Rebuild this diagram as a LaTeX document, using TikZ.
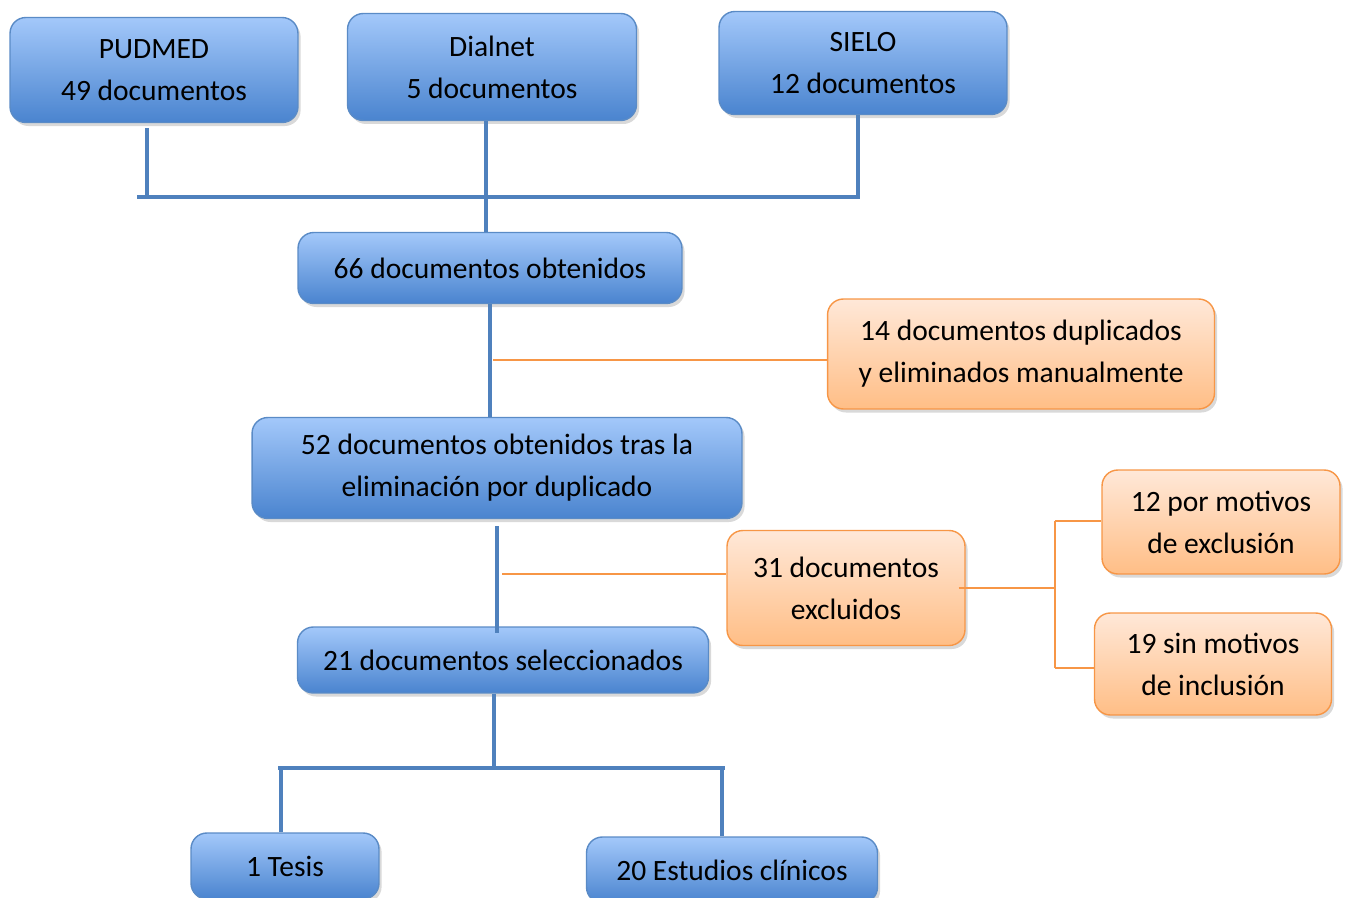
\documentclass[tikz,border=0pt]{standalone}
\usepackage{fontspec}
\setmainfont{Carlito}
\usepackage{tikz}
\usetikzlibrary{positioning, shadows, calc}

\definecolor{blueTop}{HTML}{A3C8FA}
\definecolor{blueBot}{HTML}{4A84CF}
\definecolor{blueEdge}{HTML}{5A8BC6}
\definecolor{blueLine}{HTML}{4F81BD}
\definecolor{orangeTop}{HTML}{FFE8D8}
\definecolor{orangeBot}{HTML}{FFBE86}
\definecolor{orangeEdge}{HTML}{F79646}

\begin{document}
\begin{tikzpicture}[
  x=0.02cm, y=-0.02cm,
  box/.style={
    rectangle, rounded corners=9pt, line width=0.8pt,
    align=center, font=\fontsize{16.8}{24}\selectfont,
    inner sep=2pt,
    drop shadow={opacity=0.3, shadow xshift=1.5pt, shadow yshift=-2pt},
  },
  bluebox/.style={box, draw=blueEdge, top color=blueTop, bottom color=blueBot},
  orangebox/.style={box, draw=orangeEdge, top color=orangeTop, bottom color=orangeBot},
  bline/.style={blueLine, line width=2.8pt},
  oline/.style={orangeEdge, line width=1pt},
]
\useasboundingbox (0,0) rectangle (1348,898);

% sources
\node[bluebox, minimum width=5.76cm, minimum height=2.1cm]  (pud)  at (154,70)  {PUDMED\\49 documentos};
\node[bluebox, minimum width=5.78cm, minimum height=2.14cm] (dial) at (492,67)  {Dialnet\\5 documentos};
\node[bluebox, minimum width=5.76cm, minimum height=2.06cm] (sie)  at (863,63)  {SIELO\\12 documentos};

% main flow
\node[bluebox, minimum width=7.68cm, minimum height=1.42cm] (obt)  at (490,268) {66 documentos obtenidos};
\node[bluebox, minimum width=9.8cm,  minimum height=2.02cm] (dup)  at (497,468) {52 documentos obtenidos tras la\\eliminación por duplicado};
\node[bluebox, minimum width=8.22cm, minimum height=1.32cm] (sel)  at (503,660) {21 documentos seleccionados};
\node[bluebox, minimum width=3.76cm, minimum height=1.32cm] (tes)  at (285,866) {1 Tesis};
\node[bluebox, minimum width=5.82cm, minimum height=1.32cm] (est)  at (732,870) {20 Estudios clínicos};

% side branches
\node[orangebox, minimum width=7.74cm, minimum height=2.2cm] (elim) at (1021,354) {14 documentos duplicados\\y eliminados manualmente};
\node[orangebox, minimum width=4.76cm, minimum height=2.3cm] (exc)  at (846,588)  {31 documentos\\excluidos};
\node[orangebox, minimum width=4.76cm, minimum height=2.08cm] (mexc) at (1221,522) {12 por motivos\\de exclusión};
\node[orangebox, minimum width=4.74cm, minimum height=2.04cm] (minc) at (1213,664) {19 sin motivos\\de inclusión};

% top bar joining the three sources
\coordinate (barL) at (137,197);
\coordinate (barR) at (860,197);
\coordinate (pudFoot) at (147,128);
\draw[bline] (barL) -- (barR);
\draw[bline] (pudFoot) -- (pudFoot |- barL);
\draw[bline] ([xshift=-0.1cm]sie.south) -- ([xshift=-0.1cm]sie.south |- barR);
\draw[bline] ([xshift=-0.12cm]dial.south) -- ([xshift=-0.12cm]dial.south |- obt.north);

\draw[bline] (obt.south) -- (obt.south |- dup.north);
\draw[bline] ([yshift=-0.14cm]dup.south) -- ([yshift=-0.14cm]dup.south |- sel.north);

% orange side lines
\coordinate (elimJ) at (493,360);
\coordinate (excJ)  at (502,574);
\draw[oline] (elimJ) -- (elimJ -| elim.west);
\draw[oline] (excJ) -- (excJ -| exc.west);

% bracket to the two reasons
\coordinate (brT) at (1055,521);
\coordinate (brB) at (1055,668);
\draw[oline] ([xshift=-0.14cm]exc.east) -- (brT |- exc.east);
\draw[oline] (brT) -- (brB);
\draw[oline] (brT) -- (brT -| mexc.west);
\draw[oline] (brB) -- (brB -| minc.west);

% bottom split
\coordinate (botL) at (278,768);
\coordinate (botR) at (725,768);
\draw[bline] ([xshift=-0.18cm]sel.south) -- ([xshift=-0.18cm]sel.south |- botL);
\draw[bline] (botL) -- (botR);
\draw[bline] ([xshift=0.06cm]botL) -- ([xshift=0.06cm]botL |- tes.north);
\draw[bline] ([xshift=-0.06cm]botR) -- ([xshift=-0.06cm]botR |- est.north);
\end{tikzpicture}
\end{document}
